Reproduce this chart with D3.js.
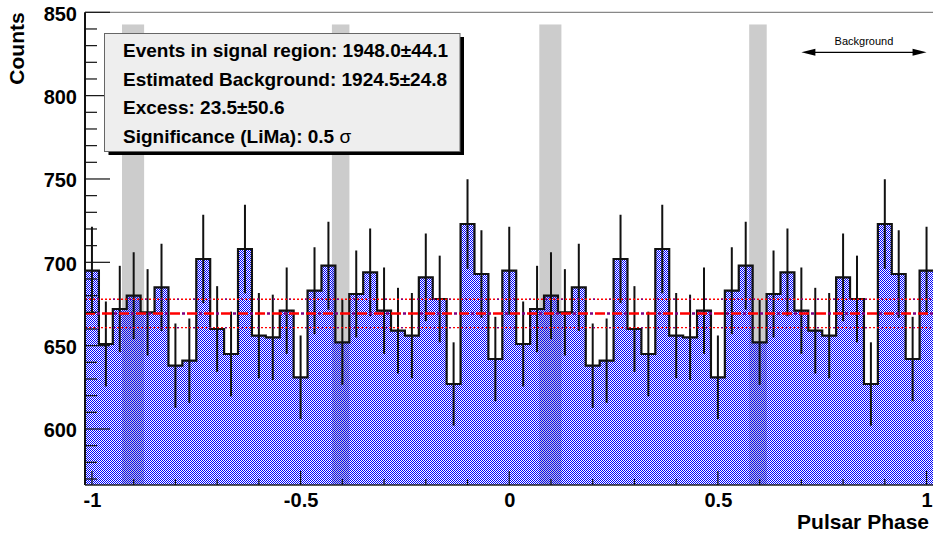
<!DOCTYPE html>
<html><head><meta charset="utf-8">
<script src="https://cdn.jsdelivr.net/npm/d3@7"></script>
<style>body{margin:0;background:#fff}svg{display:block}</style>
</head><body>
<svg id="c" width="933" height="534"></svg>
<script>
// ---------- data ----------
const phaseRange = [-1 - 1/60, 1 + 1/60];   // histogram range (61 bins of width 1/30)
const counts = [695,651,672,680,670,685,638,641,702,660,645,708,656,655,671,631,683,698,652,681,694,671,659,656,691,678,627,723,693,642,
                695,651,672,680,670,685,638,641,702,660,645,708,656,655,671,631,683,698,652,681,694,671,659,656,691,678,627,723,693,642,
                695];
const errors = [26.4,25.5,25.9,26.1,25.9,26.2,25.3,25.3,26.5,25.7,25.4,26.6,25.6,25.6,25.9,25.1,26.1,26.4,25.5,26.1,26.3,25.9,25.7,25.6,26.3,26.0,25.0,26.9,26.3,25.3,
                26.4,25.5,25.9,26.1,25.9,26.2,25.3,25.3,26.5,25.7,25.4,26.6,25.6,25.6,25.9,25.1,26.1,26.4,25.5,26.1,26.3,25.9,25.7,25.6,26.3,26.0,25.0,26.9,26.3,25.3,
                26.4];
const signalRegions = [[-0.928,-0.875],[-0.425,-0.383],[0.072,0.125],[0.575,0.617]];
const bkgLevel = 669.3, bkgErr = 8.5;
const bkgRegion = [0.7, 1.0];
const yDomain = [566.4, 850];
const xTickMajor = [-1, -0.5, 0, 0.5, 1];
const xTickMinor = [-0.9,-0.8,-0.7,-0.6,-0.4,-0.3,-0.2,-0.1,0.1,0.2,0.3,0.4,0.6,0.7,0.8,0.9];
const yTickMajor = [600, 650, 700, 750, 800, 850];
const yTickMinor = [570,580,590,610,620,630,640,660,670,680,690,710,720,730,740,760,770,780,790,810,820,830,840];
const legendLines = ["Events in signal region: 1948.0\u00b144.1",
                     "Estimated Background: 1924.5\u00b124.8",
                     "Excess: 23.5\u00b150.6",
                     "Significance (LiMa): 0.5 "];
const xTitle = "Pulsar Phase", yTitle = "Counts", bkgLabel = "Background";

// ---------- layout ----------
const L = 85, R = 933.5, T = 12.3, B = 485;
const FONT = "'Liberation Sans', Arial, Helvetica, sans-serif";
const svg = d3.select("#c");
const x = d3.scaleLinear().domain(phaseRange).range([L, R]);
const y = d3.scaleLinear().domain(yDomain).range([B, T]);
const binW = (phaseRange[1] - phaseRange[0]) / counts.length;
const bins = counts.map((v, i) => ({x0: phaseRange[0] + i*binW, c: phaseRange[0] + (i+0.5)*binW, v, e: errors[i]}));

const defs = svg.append("defs");
const pat = defs.append("pattern").attr("id","dots").attr("patternUnits","userSpaceOnUse")
  .attr("x",0).attr("y",0).attr("width",2).attr("height",2);
pat.append("rect").attr("x",0).attr("y",0).attr("width",1).attr("height",1).attr("fill","#0000ff");
pat.append("rect").attr("x",1).attr("y",1).attr("width",1).attr("height",1).attr("fill","#0000ff");
defs.append("clipPath").attr("id","clip").append("rect")
  .attr("x",L).attr("y",T).attr("width",R-L).attr("height",B-T);

const plot = svg.append("g").attr("clip-path","url(#clip)");

// signal regions (grey bands)
plot.selectAll("rect.band").data(signalRegions).join("rect").attr("class","band")
  .attr("x", d => x(d[0])).attr("width", d => x(d[1]) - x(d[0]))
  .attr("y", y(842.7)).attr("height", y(yDomain[0]) - y(842.7))
  .attr("fill","#cccccc");

// histogram
const stepPts = bins.map(b => ({x: b.x0, v: b.v})).concat([{x: phaseRange[1], v: counts[counts.length-1]}]);
plot.append("path").datum(stepPts)
  .attr("d", d3.area().x(d => x(d.x)).y0(y(yDomain[0])).y1(d => y(d.v)).curve(d3.curveStepAfter))
  .attr("fill","url(#dots)").attr("shape-rendering","crispEdges");
plot.append("path").datum(stepPts)
  .attr("d", d3.line().x(d => x(d.x)).y(d => y(d.v)).curve(d3.curveStepAfter))
  .attr("fill","none").attr("stroke","#111").attr("stroke-width",2.2);
plot.selectAll("line.err").data(bins).join("line").attr("class","err")
  .attr("x1", d => x(d.c)).attr("x2", d => x(d.c))
  .attr("y1", d => y(d.v - d.e)).attr("y2", d => y(d.v + d.e))
  .attr("stroke","#111").attr("stroke-width",2);

// background level lines
function hline(val, color, w, dash, off) {
  plot.append("line").attr("x1", L).attr("x2", R).attr("y1", y(val)).attr("y2", y(val))
    .attr("stroke", color).attr("stroke-width", w).attr("stroke-dasharray", dash).attr("stroke-dashoffset", off);
}
hline(bkgLevel, "#ff0000", 2.6, "10,7", 0);
hline(bkgLevel, "#800080", 2.6, "3,14", 5);
[bkgLevel + bkgErr, bkgLevel - bkgErr].forEach(v => {
  hline(v, "#ff0000", 1.4, "2,2", 0);
  hline(v, "#800080", 1.4, "2,14", 4);
});

// axes
const ax = svg.append("g");
ax.append("line").attr("x1",L).attr("x2",R).attr("y1",T).attr("y2",T).attr("stroke","#888").attr("stroke-width",1.2);
ax.append("line").attr("x1",L).attr("x2",L).attr("y1",T).attr("y2",B).attr("stroke","#111").attr("stroke-width",2);
ax.append("line").attr("x1",L).attr("x2",R).attr("y1",B).attr("y2",B).attr("stroke","#222").attr("stroke-width",1.6);
ax.selectAll("line.ytM").data(yTickMajor).join("line").attr("x1",L).attr("x2",L+25)
  .attr("y1",d=>y(d)).attr("y2",d=>y(d)).attr("stroke","#111").attr("stroke-width",1.2);
ax.selectAll("line.ytm").data(yTickMinor).join("line").attr("class","ytm").attr("x1",L).attr("x2",L+12)
  .attr("y1",d=>y(d)).attr("y2",d=>y(d)).attr("stroke","#111").attr("stroke-width",1.2);
ax.selectAll("line.xtM").data(xTickMajor).join("line").attr("class","xtM").attr("x1",d=>x(d)).attr("x2",d=>x(d))
  .attr("y1",B).attr("y2",B-14).attr("stroke","#111").attr("stroke-width",1.2);
ax.selectAll("line.xtm").data(xTickMinor).join("line").attr("class","xtm").attr("x1",d=>x(d)).attr("x2",d=>x(d))
  .attr("y1",B).attr("y2",B-6).attr("stroke","#111").attr("stroke-width",1.2);

const yAxis = svg.append("g").attr("transform",`translate(${L},0)`)
  .call(d3.axisLeft(y).tickValues(yTickMajor).tickSize(0).tickPadding(8).tickFormat(d3.format("d")));
const xAxis = svg.append("g").attr("transform",`translate(0,${B})`)
  .call(d3.axisBottom(x).tickValues(xTickMajor).tickSize(0).tickPadding(8).tickFormat(d => String(d)));
[yAxis, xAxis].forEach(g => {
  g.select(".domain").remove();
  g.selectAll("text").attr("font-family",FONT).attr("font-weight","bold").attr("font-size",20).attr("fill","#000");
});
yAxis.selectAll("text").attr("dy","0.4em");

svg.append("text").attr("transform",`translate(24,${T}) rotate(-90)`).attr("text-anchor","end")
  .attr("font-family",FONT).attr("font-weight","bold").attr("font-size",21).text(yTitle);
svg.append("text").attr("x",929).attr("y",529).attr("text-anchor","end")
  .attr("font-family",FONT).attr("font-weight","bold").attr("font-size",21).text(xTitle);

// legend box
const lg = svg.append("g");
lg.append("rect").attr("x",108.5).attr("y",37).attr("width",355.5).attr("height",118).attr("fill","#000");
lg.append("rect").attr("x",104.5).attr("y",33.5).attr("width",355.5).attr("height",118)
  .attr("fill","#eeeeee").attr("stroke","#666").attr("stroke-width",1);
legendLines.forEach((t, i) => {
  const tx = lg.append("text").attr("x",123).attr("y",57 + i*28.6)
    .attr("font-family",FONT).attr("font-weight","bold").attr("font-size",19).attr("fill","#000").text(t);
  if (i === 3) tx.append("tspan").attr("font-weight","normal").text("\u03c3");
});

// background arrow
const ay = 52.3;
const ar = svg.append("g");
ar.append("line").attr("x1",x(bkgRegion[0])+6).attr("x2",x(bkgRegion[1])-6).attr("y1",ay).attr("y2",ay)
  .attr("stroke","#000").attr("stroke-width",1.2);
const xa = x(bkgRegion[0]), xb = x(bkgRegion[1]);
ar.append("path").attr("d",`M${xa},${ay}L${xa+14},${ay-3.5}L${xa+14},${ay+3.5}Z`).attr("fill","#000");
ar.append("path").attr("d",`M${xb},${ay}L${xb-14},${ay-3.5}L${xb-14},${ay+3.5}Z`).attr("fill","#000");
ar.append("text").attr("x",x((bkgRegion[0]+bkgRegion[1])/2)).attr("y",45).attr("text-anchor","middle")
  .attr("font-family",FONT).attr("font-size",11).attr("fill","#000").text(bkgLabel);
</script>
</body></html>
